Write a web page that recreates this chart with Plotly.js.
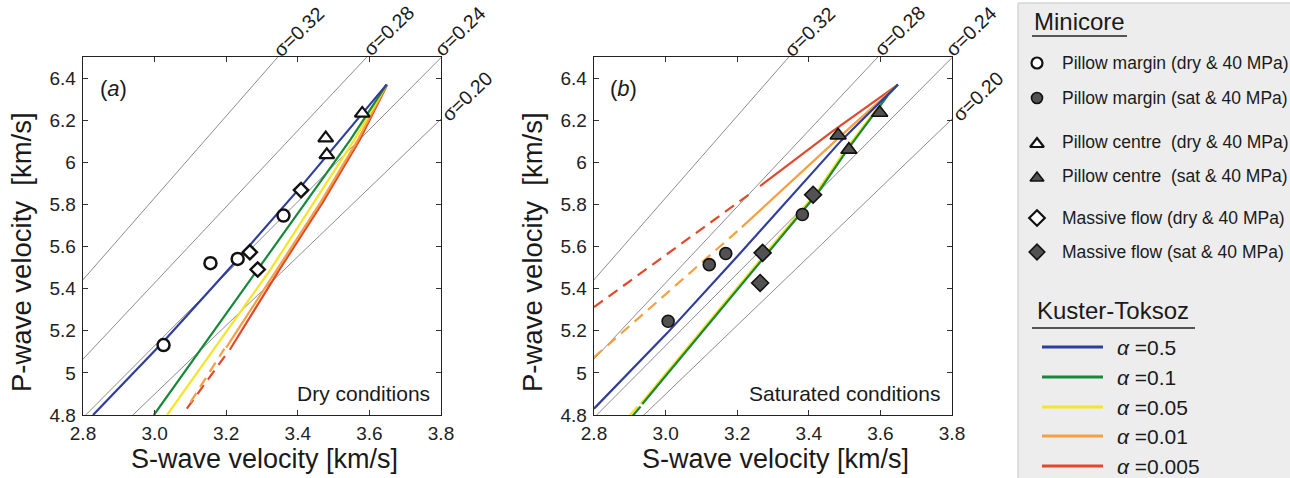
<!DOCTYPE html>
<html><head><meta charset="utf-8">
<script src="https://cdn.plot.ly/plotly-3.0.1.min.js"></script>
<style>html,body{margin:0;padding:0;background:#fff}#chart{width:1290px;height:478px}</style>
</head><body><div id="chart"></div>
<script>
// ---------- data ----------
const xTickVals = [2.8, 3.0, 3.2, 3.4, 3.6, 3.8];
const xTickText = ['2.8', '3.0', '3.2', '3.4', '3.6', '3.8'];
const yTickVals = [4.8, 5.0, 5.2, 5.4, 5.6, 5.8, 6.0, 6.2, 6.4];
const yTickText = ['4.8', '5', '5.2', '5.4', '5.6', '5.8', '6', '6.2', '6.4'];

const sigmaVals = [0.32, 0.28, 0.24, 0.20];
const sigmaLabels = ['σ=0.32', 'σ=0.28', 'σ=0.24', 'σ=0.20'];

// Minicore measurements (dry, 40 MPa)
const dryMarginVs = [3.025, 3.156, 3.232, 3.360];
const dryMarginVp = [5.132, 5.521, 5.541, 5.747];
const dryCentreVs = [3.478, 3.481, 3.580];
const dryCentreVp = [6.115, 6.035, 6.232];
const dryFlowVs = [3.266, 3.288, 3.409];
const dryFlowVp = [5.573, 5.491, 5.868];
// Minicore measurements (saturated, 40 MPa)
const satMarginVs = [3.007, 3.122, 3.168, 3.382];
const satMarginVp = [5.245, 5.514, 5.567, 5.752];
const satCentreVs = [3.482, 3.512, 3.598];
const satCentreVp = [6.128, 6.060, 6.235];
const satFlowVs = [3.271, 3.264, 3.412];
const satFlowVp = [5.570, 5.427, 5.846];

// Kuster-Toksoz model curves, dry
const ktDryBlueVs = [2.828, 3.023, 3.158, 3.232, 3.404, 3.483, 3.580, 3.648];
const ktDryBlueVp = [4.80, 5.145, 5.40, 5.54, 5.875, 6.035, 6.235, 6.369];
const ktDryGreenVs = [2.998, 3.300, 3.548, 3.648];
const ktDryGreenVp = [4.80, 5.52, 6.11, 6.369];
const ktDryYellowVs = [3.035, 3.325, 3.557, 3.648];
const ktDryYellowVp = [4.80, 5.494, 6.104, 6.369];
const ktDryOrangeVs = [3.200, 3.344, 3.464, 3.567, 3.648];
const ktDryOrangeVp = [5.12, 5.494, 5.811, 6.104, 6.369];
const ktDryOrangeDashVs = [3.100, 3.195];
const ktDryOrangeDashVp = [4.86, 5.115];
const ktDryRedVs = [3.210, 3.350, 3.470, 3.572, 3.650];
const ktDryRedVp = [5.11, 5.494, 5.811, 6.104, 6.369];
const ktDryRedDashVs = [3.090, 3.205];
const ktDryRedDashVp = [4.83, 5.10];

// Kuster-Toksoz model curves, saturated
const ktSatBlueVs = [2.800, 3.005, 3.186, 3.491, 3.649];
const ktSatBlueVp = [4.83, 5.19, 5.526, 6.104, 6.369];
const ktSatGreenVs = [2.935, 3.250, 3.427, 3.510, 3.621, 3.649];
const ktSatGreenVp = [4.852, 5.494, 5.859, 6.065, 6.318, 6.369];
const ktSatGreenDashVs = [2.905, 2.930];
const ktSatGreenDashVp = [4.79, 4.84];
const ktSatYellowVs = [2.930, 3.245, 3.422, 3.505, 3.618, 3.649];
const ktSatYellowVp = [4.852, 5.494, 5.859, 6.065, 6.318, 6.369];
const ktSatYellowDashVs = [2.895, 2.922];
const ktSatYellowDashVp = [4.79, 4.84];
const ktSatOrangeVs = [3.213, 3.491, 3.649];
const ktSatOrangeVp = [5.692, 6.128, 6.369];
const ktSatOrangeDashVs = [2.800, 3.205];
const ktSatOrangeDashVp = [5.074, 5.68];
const ktSatRedVs = [3.264, 3.464, 3.649];
const ktSatRedVp = [5.887, 6.144, 6.369];
const ktSatRedDashVs = [2.800, 3.236];
const ktSatRedDashVp = [5.312, 5.851];

const markerNames = ['Pillow margin (dry & 40 MPa)', 'Pillow margin (sat & 40 MPa)',
  'Pillow centre\u00a0 (dry & 40 MPa)', 'Pillow centre\u00a0 (sat & 40 MPa)',
  'Massive flow (dry & 40 MPa)', 'Massive flow (sat & 40 MPa)'];
const alphaLabels = ['0.5', '0.1', '0.05', '0.01', '0.005'];
const ktColors = ['#2f3e9c', '#17893b', '#f7e425', '#f7a043', '#e2492c'];

// ---------- helpers ----------
const W = 1290, H = 478;
const px = v => v / W;
const py = v => 1 - v / H;
const FONT = 'Liberation Sans, Arial, Helvetica, sans-serif';
const traces = [];

function line(xs, ys, color, xa, ya, dash, width) {
  traces.push({type: 'scatter', mode: 'lines', x: xs, y: ys, xaxis: xa, yaxis: ya,
    line: {color: color, width: width || 2.2, dash: dash || 'solid'},
    hoverinfo: 'skip', showlegend: false});
}
function pts(xs, ys, symbol, size, fill, lw, xa, ya) {
  traces.push({type: 'scatter', mode: 'markers', x: xs, y: ys, xaxis: xa, yaxis: ya,
    marker: {symbol: symbol, size: size, color: fill, line: {color: '#111', width: lw}},
    hoverinfo: 'skip', showlegend: false});
}
const DASH = '11px,7px';

// sigma reference lines (Vp = Vs * sqrt((2-2s)/(1-2s)))
['x', 'x2'].forEach((xa, i) => {
  const ya = i === 0 ? 'y' : 'y2';
  sigmaVals.forEach(s => {
    const r = Math.sqrt((2 - 2 * s) / (1 - 2 * s));
    line([2.5, 4.0], [2.5 * r, 4.0 * r], '#8c8c8c', xa, ya, 'solid', 1);
  });
});

// panel a curves
line(ktDryRedDashVs, ktDryRedDashVp, ktColors[4], 'x', 'y', DASH);
line(ktDryOrangeDashVs, ktDryOrangeDashVp, ktColors[3], 'x', 'y', DASH);
line(ktDryRedVs, ktDryRedVp, ktColors[4], 'x', 'y');
line(ktDryOrangeVs, ktDryOrangeVp, ktColors[3], 'x', 'y');
line(ktDryYellowVs, ktDryYellowVp, ktColors[2], 'x', 'y');
line(ktDryGreenVs, ktDryGreenVp, ktColors[1], 'x', 'y');
line(ktDryBlueVs, ktDryBlueVp, ktColors[0], 'x', 'y');

// panel b curves
line(ktSatRedDashVs, ktSatRedDashVp, ktColors[4], 'x2', 'y2', DASH);
line(ktSatOrangeDashVs, ktSatOrangeDashVp, ktColors[3], 'x2', 'y2', DASH);
line(ktSatRedVs, ktSatRedVp, ktColors[4], 'x2', 'y2');
line(ktSatOrangeVs, ktSatOrangeVp, ktColors[3], 'x2', 'y2');
line(ktSatYellowDashVs, ktSatYellowDashVp, ktColors[2], 'x2', 'y2');
line(ktSatYellowVs, ktSatYellowVp, ktColors[2], 'x2', 'y2');
line(ktSatGreenDashVs, ktSatGreenDashVp, ktColors[1], 'x2', 'y2');
line(ktSatGreenVs, ktSatGreenVp, ktColors[1], 'x2', 'y2');
line(ktSatBlueVs, ktSatBlueVp, ktColors[0], 'x2', 'y2');

// markers
const DRYFILL = '#ffffff', SATFILL = '#525252';
pts(dryMarginVs, dryMarginVp, 'circle', 12, DRYFILL, 2.5, 'x', 'y');
pts(dryCentreVs, dryCentreVp, 'triangle-up', 13, DRYFILL, 2.2, 'x', 'y');
pts(dryFlowVs, dryFlowVp, 'diamond', 11, DRYFILL, 2.4, 'x', 'y');
pts(satMarginVs, satMarginVp, 'circle', 12, SATFILL, 1.6, 'x2', 'y2');
pts(satCentreVs, satCentreVp, 'triangle-up', 14, SATFILL, 1.6, 'x2', 'y2');
pts(satFlowVs, satFlowVp, 'diamond', 13, SATFILL, 1.6, 'x2', 'y2');

// legend symbols (on a full-figure pixel axis)
const legRows = [63, 98, 142, 176, 218, 252];
const legSyms = ['circle', 'circle', 'triangle-up', 'triangle-up', 'diamond', 'diamond'];
legSyms.forEach((s, i) => {
  const dry = i % 2 === 0;
  traces.push({type: 'scatter', mode: 'markers', x: [1037], y: [legRows[i] + (s === 'triangle-up' ? 2 : 0)],
    xaxis: 'x3', yaxis: 'y3',
    marker: {symbol: s, size: s === 'circle' ? 11 : 12, color: dry ? DRYFILL : SATFILL,
      line: {color: '#111', width: dry ? 2.2 : 1.6}},
    hoverinfo: 'skip', showlegend: false});
});

// ---------- layout ----------
const ax = (domain, anchor) => ({
  domain: domain, anchor: anchor, showgrid: false, zeroline: false,
  showline: true, linecolor: '#222', linewidth: 1.3, mirror: 'ticks',
  ticks: 'inside', ticklen: 5, tickwidth: 1, tickcolor: '#333',
  tickfont: {family: FONT, size: 19, color: '#222'}, fixedrange: true
});
const xDomA = [px(83), px(441)], xDomB = [px(594), px(952)];
const yDom = [py(415), py(57)];

const layout = {
  width: W, height: H, margin: {l: 0, r: 0, t: 0, b: 0},
  paper_bgcolor: '#ffffff', plot_bgcolor: 'rgba(0,0,0,0)', showlegend: false,
  font: {family: FONT, color: '#222'},
  xaxis: Object.assign(ax(xDomA, 'y'), {range: [2.8, 3.8], tickvals: xTickVals, ticktext: xTickText, ticklabelstandoff: 1}),
  yaxis: Object.assign(ax(yDom, 'x'), {range: [4.8, 6.5], tickvals: yTickVals, ticktext: yTickText, ticklabelstandoff: 2}),
  xaxis2: Object.assign(ax(xDomB, 'y2'), {range: [2.8, 3.8], tickvals: xTickVals, ticktext: xTickText, ticklabelstandoff: 1}),
  yaxis2: Object.assign(ax(yDom, 'x2'), {range: [4.8, 6.5], tickvals: yTickVals, ticktext: yTickText, ticklabelstandoff: 2}),
  xaxis3: {domain: [0, 1], anchor: 'y3', range: [0, W], visible: false, fixedrange: true},
  yaxis3: {domain: [0, 1], anchor: 'x3', range: [H, 0], visible: false, fixedrange: true},
  shapes: [],
  annotations: []
};

function txt(x, y, text, size, opts) {
  layout.annotations.push(Object.assign({xref: 'paper', yref: 'paper', x: px(x), y: py(y), text: text,
    showarrow: false, xanchor: 'center', yanchor: 'middle',
    font: {family: FONT, size: size, color: '#1a1a1a'}}, opts || {}));
}

// axis titles
[0, 511].forEach(off => {
  txt(264 + off, 459, 'S-wave velocity [km/s]', 27);
  txt(21 + off, 252, 'P-wave velocity\u00a0 [km/s]', 27.5, {textangle: -90});
  // sigma labels
  const lp = [[298, 32], [388, 31], [460, 31], [467, 96]];
  sigmaLabels.forEach((s, i) => txt(lp[i][0] + off, lp[i][1], s, 19.5, {textangle: -44}));
});
txt(98, 88, '(<i>a</i>)', 22, {xanchor: 'left'});
txt(608, 88, '(<i>b</i>)', 22, {xanchor: 'left'});
txt(432, 393, 'Dry conditions', 21, {xanchor: 'right'});
txt(942, 393, 'Saturated conditions', 21, {xanchor: 'right'});

// legend panel
layout.shapes.push({type: 'rect', xref: 'paper', yref: 'paper', x0: px(1018), x1: 1.001, y0: -0.01, y1: py(3),
  fillcolor: '#ededee', line: {color: '#c4c4c4', width: 1}, layer: 'below'});
txt(1032, 22, 'Minicore', 24, {xanchor: 'left'});
layout.shapes.push({type: 'line', xref: 'paper', yref: 'paper', x0: px(1032), x1: px(1127), y0: py(36), y1: py(36),
  line: {color: '#222', width: 1.5}});
markerNames.forEach((n, i) => txt(1060, legRows[i], n, 17.5, {xanchor: 'left'}));
txt(1035, 310, 'Kuster-Toksoz', 24, {xanchor: 'left'});
layout.shapes.push({type: 'line', xref: 'paper', yref: 'paper', x0: px(1032), x1: px(1195), y0: py(328), y1: py(328),
  line: {color: '#222', width: 1.5}});
const ktRows = [347, 377, 407, 436, 466];
alphaLabels.forEach((a, i) => {
  layout.shapes.push({type: 'line', xref: 'paper', yref: 'paper', x0: px(1042), x1: px(1103),
    y0: py(ktRows[i]), y1: py(ktRows[i]), line: {color: ktColors[i], width: 3}});
  txt(1115, ktRows[i], '<i>α</i> =' + a, 21, {xanchor: 'left'});
});

Plotly.newPlot('chart', traces, layout, {staticPlot: true, displayModeBar: false});
</script></body></html>
